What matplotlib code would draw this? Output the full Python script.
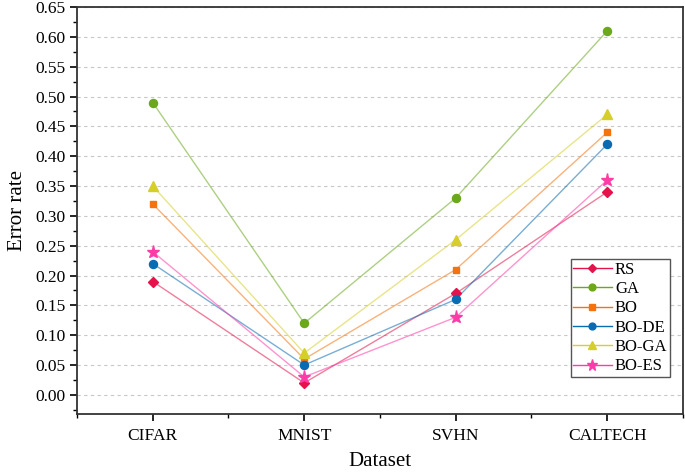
import numpy as np
import matplotlib
matplotlib.use("Agg")
import matplotlib.pyplot as plt
from matplotlib.ticker import MultipleLocator

plt.rcParams['font.family'] = ['Liberation Serif', 'DejaVu Serif']

datasets = ["CIFAR", "MNIST", "SVHN", "CALTECH"]
rs = [0.19, 0.02, 0.17, 0.34]
ga = [0.49, 0.12, 0.33, 0.61]
bo = [0.32, 0.06, 0.21, 0.44]
bo_de = [0.22, 0.05, 0.16, 0.42]
bo_ga = [0.35, 0.07, 0.26, 0.47]
bo_es = [0.24, 0.03, 0.13, 0.36]

series = [
    ("RS", rs, "#E2144B", "D", 5),
    ("GA", ga, "#6BA81C", "o", 5.8),
    ("BO", bo, "#F4730E", "s", 5),
    ("BO-DE", bo_de, "#0B6BB0", "o", 5.8),
    ("BO-GA", bo_ga, "#D6CF2A", "^", 7),
    ("BO-ES", bo_es, "#FF3BA7", "*", 9.5),
]

fig = plt.figure(figsize=(6.85, 4.72), dpi=100)
ax = fig.add_axes([0.1124, 0.123, 0.8846, 0.862])

x = np.arange(len(datasets))
handles = []
for name, vals, col, mk, ms in series:
    ax.plot(x, vals, color=col, alpha=0.55, linewidth=1.0, zorder=2)
    ax.plot(x, vals, linestyle='none', marker=mk, markersize=ms,
            color=col, markeredgecolor=col, zorder=3)
    h, = ax.plot([], [], color=col, linewidth=1.0, marker=mk, markersize=ms * 0.85,
                 markerfacecolor=col, markeredgecolor=col, label=name)
    handles.append(h)

ax.set_xlim(-0.5, 3.5)
ax.set_ylim(-0.032, 0.65)
ax.set_xticks(x)
ax.set_xticklabels(datasets)
ax.set_xticks(np.arange(-0.5, 3.6, 1.0), minor=True)
yt = np.arange(0, 0.651, 0.05)
ax.set_yticks(yt)
ax.set_yticklabels(["%.2f" % v for v in yt])
ax.yaxis.set_minor_locator(MultipleLocator(0.025))

ax.tick_params(which='major', direction='out', length=5, width=1.2, labelsize=12.5)
ax.tick_params(which='minor', direction='out', length=3, width=1.0)
ax.tick_params(axis='x', which='major', pad=5)
for s in ax.spines.values():
    s.set_linewidth(1.3)
    s.set_color('#333333')

ax.grid(axis='y', which='major', linestyle=(0, (3, 3)), color='#c8c8c8', linewidth=0.8)
ax.set_axisbelow(True)

ax.set_xlabel("Dataset", fontsize=15, labelpad=6)
ax.set_ylabel("Error rate", fontsize=15, labelpad=6)

leg = ax.legend(handles=handles, loc='lower right',
                bbox_to_anchor=(0.9785, 0.091), borderaxespad=0,
                fancybox=False, edgecolor='#555555', fontsize=12,
                handlelength=2.3, handletextpad=0.2, borderpad=0.15,
                labelspacing=0.2, framealpha=1)
for line in leg.get_lines():
    line.set_alpha(1)
leg.get_frame().set_linewidth(1.0)

fig.savefig("out.png", dpi=100)
